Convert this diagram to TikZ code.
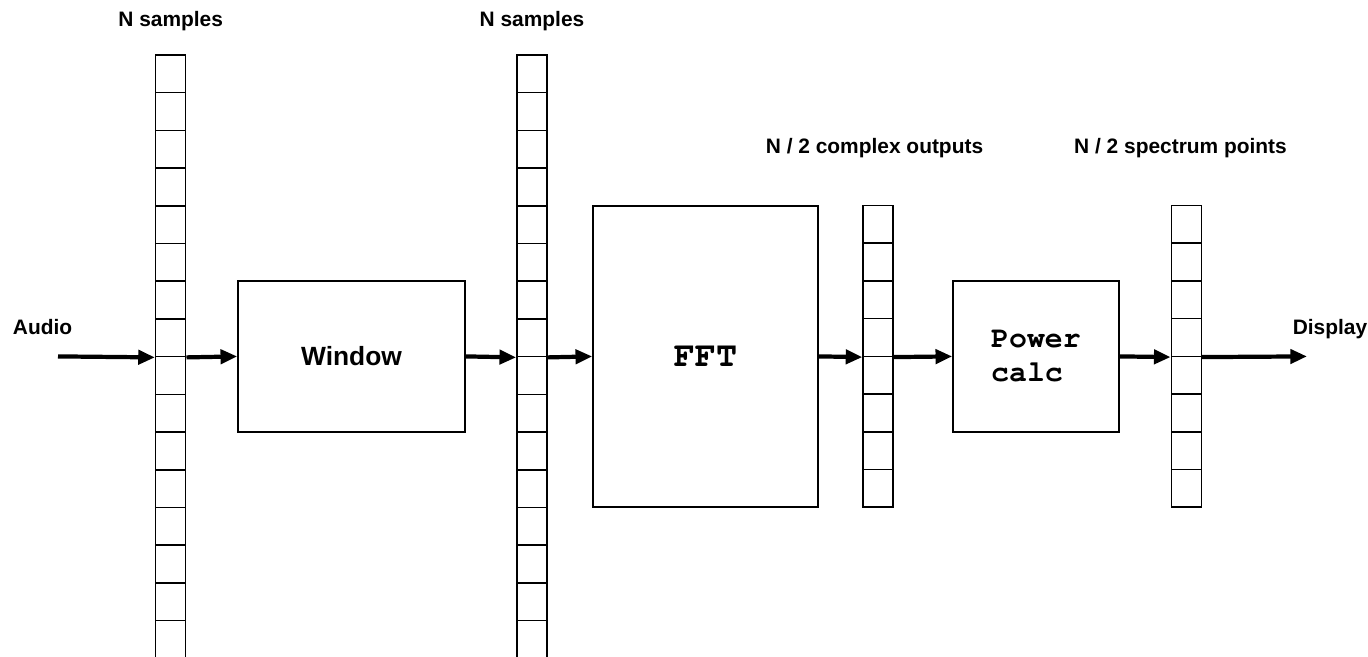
\documentclass[tikz,border=0pt]{standalone}
\usepackage{fontspec}
\setmainfont{Liberation Sans}
\newfontfamily\codefont{TeX Gyre Cursor}
\usetikzlibrary{arrows.meta,positioning}

\begin{document}
\begin{tikzpicture}[x=0.02cm, y=-0.02cm]
	\tikzstyle{Cell}	= [draw, line width=0.9pt, minimum width=0.6cm, minimum height=0.754cm, inner sep=0pt]
	\tikzstyle{Block}	= [draw, line width=0.9pt, inner sep=0pt]
	\tikzstyle{Label}	= [anchor=base, font=\fontsize{11.9}{14}\selectfont\bfseries]
	\tikzstyle{Flow}	= [line width=2.4pt, -{Triangle[length=9.5pt,width=8pt]}]

	\useasboundingbox (0,0) rectangle (1368,656);

	% sample buffers
	\foreach \n/\x/\t/\m in {1/170.7/55/16, 2/532/55/16, 3/878.2/205.5/8, 4/1186.4/205.5/8}
		\foreach \k in {1,...,\m}
			\node (a\n-\k) at (\x, {\t+37.7*\k-18.85}) [Cell] {};

	% processing blocks
	\node (win) at (351.5,356.4) [Block, minimum width=4.54cm, minimum height=3.02cm, font=\fontsize{15}{18}\selectfont\bfseries] {Window};
	\node (fft) at (705.5,356.4) [Block, minimum width=4.5cm, minimum height=6.02cm, font=\fontsize{20}{24}\selectfont\codefont\bfseries] {FFT};
	\node (pow) at (1036,356.4) [Block, minimum width=3.32cm, minimum height=3.02cm, align=left, font=\fontsize{17}{19.3}\selectfont\codefont\bfseries] {Power\\calc};

	\node (top1) at (170.7,26) [Label] {N samples};
	\node (top2) at (532,26) [Label] {N samples};
	\node (top3) at (874.5,153) [Label] {N / 2 complex outputs};
	\node (top4) at (1180.5,153) [Label] {N / 2 spectrum points};
	\node (audio) at (42.6,334) [Label] {Audio};
	\node (display) at (1330,334) [Label] {Display};

	\coordinate (in) at (58,356.4);
	\coordinate (out) at (1307,356.4);

	\draw [Flow] (in) -- (a1-8.south west);
	\draw [Flow] (a1-8.south east) -- (win.west);
	\draw [Flow] (win.east) -- (a2-8.south west);
	\draw [Flow] (a2-8.south east) -- (fft.west);
	\draw [Flow] (fft.east) -- (a3-4.south west);
	\draw [Flow] (a3-4.south east) -- (pow.west);
	\draw [Flow] (pow.east) -- (a4-4.south west);
	\draw [Flow] (a4-4.south east) -- (out);
\end{tikzpicture}
\end{document}
